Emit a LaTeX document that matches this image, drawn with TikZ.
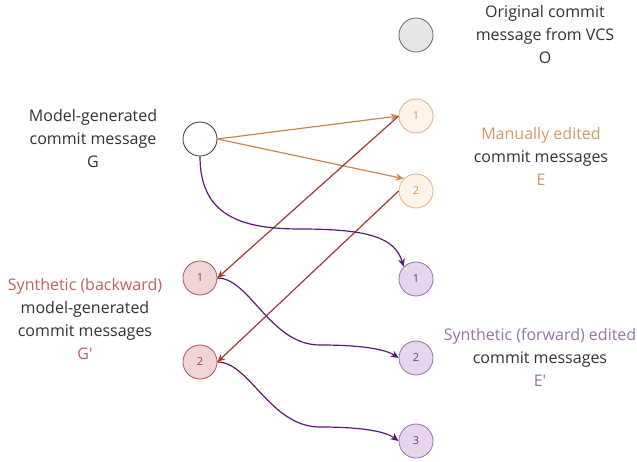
\documentclass[tikz,border=0pt]{standalone}
\usepackage{fontspec}
\setmainfont{Open Sans}[Ligatures=TeXOff]
\usetikzlibrary{arrows.meta}
\definecolor{txt}{HTML}{333333}
\definecolor{ofill}{HTML}{E6E6E6}
\definecolor{oline}{HTML}{666666}
\definecolor{efill}{HTML}{FDF3E6}
\definecolor{eline}{HTML}{E0B080}
\definecolor{etext}{HTML}{D19A66}
\definecolor{earrow}{HTML}{C8884F}
\definecolor{gfill}{HTML}{EFD5D5}
\definecolor{gline}{HTML}{B85450}
\definecolor{gtext}{HTML}{C0605A}
\definecolor{gnum}{HTML}{A0403A}
\definecolor{garrow}{HTML}{9C3B33}
\definecolor{pfill}{HTML}{E6D5EC}
\definecolor{pline}{HTML}{9673A6}
\definecolor{ptext}{HTML}{9673A6}
\definecolor{pnum}{HTML}{6B3C82}
\definecolor{parrow}{HTML}{5A1A75}
\tikzset{
  dot/.style={circle, minimum size=34pt, inner sep=0pt, line width=0.8pt, font=\fontsize{11}{13}\selectfont},
  onode/.style={dot, draw=oline, fill=ofill},
  gnode/.style={dot, draw=txt, fill=white},
  enode/.style={dot, draw=eline, fill=efill, text=etext},
  rnode/.style={dot, draw=gline, fill=gfill, text=gnum},
  pnode/.style={dot, draw=pline, fill=pfill, text=pnum},
  lbl/.style={align=center, text=txt, font=\fontsize{16}{23}\selectfont, inner sep=0pt},
  arr/.style={line width=1.2pt, -{Stealth[length=8pt,width=7pt]}},
}
\begin{document}
\begin{tikzpicture}[x=1pt,y=-1pt]
\useasboundingbox (0,0) rectangle (637,462);
% nodes
\node[onode] (O) at (416,35) {};
\node[gnode] (G) at (200,139) {};
\node[enode] (E1) at (416,116) {1};
\node[enode] (E2) at (416,191) {2};
\node[rnode] (R1) at (200,278) {1};
\node[rnode] (R2) at (200,362) {2};
\node[pnode] (P1) at (416,279) {1};
\node[pnode] (P2) at (416,358) {2};
\node[pnode] (P3) at (416,441) {3};
% labels
\node[lbl] (lO) at (545,35) {Original commit\\message from VCS\\O};
\node[lbl] (lG) at (93,139) {Model-generated\\commit message\\G};
\node[lbl] (lE) at (541,156) {\textcolor{etext}{Manually edited}\\commit messages\\\textcolor{etext}{E}};
\node[lbl] (lR) at (85,319) {\textcolor{gtext}{Synthetic (backward)}\\model-generated\\commit messages\\\textcolor{gtext}{G'}};
\node[lbl] (lP) at (540,357) {\textcolor{ptext}{Synthetic (forward) edited}\\commit messages\\\textcolor{ptext}{E'}};
% orange edges
\draw[arr, earrow] (G.east) -- (E1.west);
\draw[arr, earrow] (G.east) -- (E2.north west);
% red edges
\draw[arr, garrow] (E1.west) -- (R1.east);
\draw[arr, garrow] (E2.west) -- (R2.east);
% purple edges
\draw[arr, parrow] (G.south) .. controls (200,215) and (240,229) .. (300,229) .. controls (370,229) and (395,238) .. (P1.north west);
\draw[arr, parrow] (R1.east) .. controls (250,278) and (270,345) .. (320,345) .. controls (360,345) and (385,349) .. (P2.west);
\draw[arr, parrow] (R2.east) .. controls (250,362) and (270,427) .. (320,427) .. controls (360,427) and (385,431) .. (P3.west);
\end{tikzpicture}
\end{document}
